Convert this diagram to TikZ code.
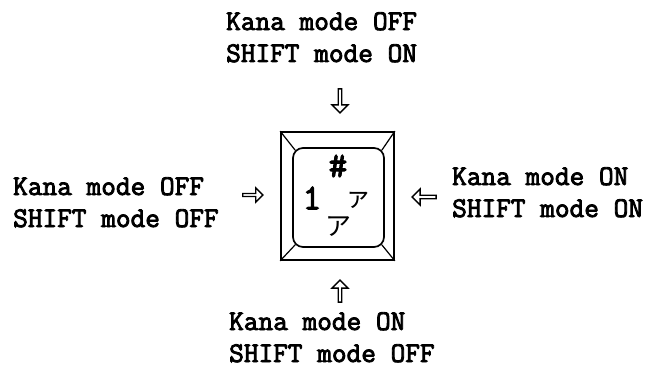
\documentclass[tikz,border=0pt]{standalone}
\usepackage{fontspec}
\newfontfamily\labelfont[FakeBold=3]{Latin Modern Mono}
\newfontfamily\kanafont{Noto Sans CJK JP}
\usetikzlibrary{calc,positioning,shapes.arrows}

\begin{document}
\begin{tikzpicture}[
  x=1pt,y=-1pt,
  lbl/.style={inner sep=0pt,align=left,anchor=base west,font=\labelfont\fontsize{28.5}{32}\selectfont},
  legend/.style={inner sep=0pt,font=\labelfont\fontsize{36}{36}\selectfont},
  kana/.style={inner sep=0pt,font=\kanafont\fontsize{26}{26}\selectfont},
  hollow/.style={single arrow,draw,line width=1.4pt,fill=white,inner sep=0pt,minimum width=16,minimum height=22,single arrow head extend=2.5,single arrow head indent=0pt},
  keyline/.style={draw,line width=1.7pt}
]
\useasboundingbox (0,0) rectangle (661,369);
% the key top
\node[keyline,minimum width=113,minimum height=128,inner sep=0pt] (key) at (337.5,196) {};
\node[keyline,rounded corners=10pt,minimum width=91,minimum height=99,inner sep=0pt] (face) at (338.5,197.5) {};
\draw[line width=1.2pt] (key.north west) -- ($(face.north west)+(3,3)$);
\draw[line width=1.2pt] (key.north east) -- ($(face.north east)+(-3,3)$);
\draw[line width=1.2pt] (key.south west) -- ($(face.south west)+(3,-3)$);
\draw[line width=1.2pt] (key.south east) -- ($(face.south east)+(-3,-3)$);
\node[legend] (sharp) at (338,166) {\#};
\node[legend] (one) at (312,198) {1};
\node[kana] (smalla) at (358,200) {ァ};
\node[kana] (biga) at (338,227) {ア};
% the four modes (base = last line)
\node[lbl] (top) at (226,62) {Kana mode OFF\\SHIFT mode ON};
\node[lbl] (left) at (13,227) {Kana mode OFF\\SHIFT mode OFF};
\node[lbl] (right) at (452,217) {Kana mode ON\\SHIFT mode ON};
\node[lbl] (bottom) at (229,362) {Kana mode ON\\SHIFT mode OFF};
\node[hollow,shape border rotate=270,minimum height=24] (atop) at (340,100) {};
\node[hollow,shape border rotate=90,minimum height=22] (abottom) at (340,292) {};
\node[hollow,minimum width=14,minimum height=20] (aleft) at (252,195) {};
\node[hollow,shape border rotate=180,minimum height=24] (aright) at (425,197) {};
\end{tikzpicture}
\end{document}
